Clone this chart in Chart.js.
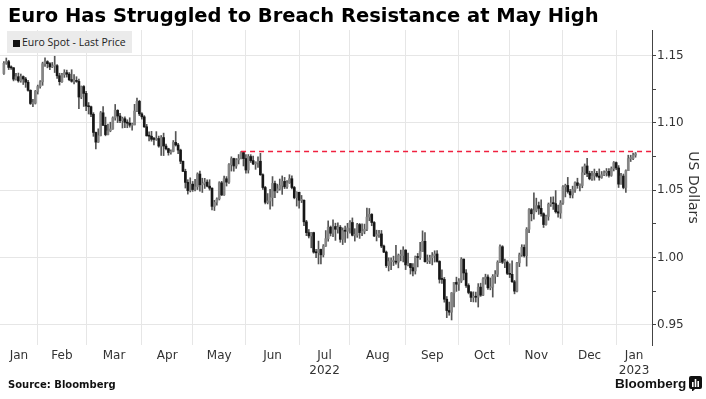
<!DOCTYPE html>
<html>
<head>
<meta charset="utf-8">
<script src="https://cdn.jsdelivr.net/npm/chart.js@4.4.1/dist/chart.umd.min.js"></script>
<style>
    html, body { margin: 0; padding: 0; background: #fff; }
    #wrap { position: relative; width: 706px; height: 399px; overflow: hidden; }
    #chart { position: absolute; left: 0; top: 0; }
    #title {
        position: absolute; left: 8px; top: 4px; line-height: 24px;
        font: bold 19.5px "DejaVu Sans", sans-serif; color: #000; white-space: nowrap;
    }
    #legend {
        position: absolute; left: 7px; top: 31px; width: 125px; height: 22px;
        background: #ebebeb; box-sizing: border-box; padding-left: 6px;
        font: 10.5px "Open Sans", sans-serif; color: #222; line-height: 22px; white-space: nowrap;
    }
    #legend .sw { display: inline-block; width: 7px; height: 7px; background: #111; margin-right: 2px; vertical-align: -0.5px; }
    #source {
        position: absolute; left: 8px; top: 379px;
        font: bold 10px "DejaVu Sans", sans-serif; color: #111; white-space: nowrap;
    }
    #brand {
        position: absolute; left: 615px; top: 376px;
        font: bold 13.5px "Liberation Sans", sans-serif; color: #111; white-space: nowrap;
    }
    #brand svg { vertical-align: -3px; margin-left: 3px; }
</style>
</head>
<body>
<div id="wrap">
    <canvas id="chart" width="706" height="399"></canvas>
    <div id="title">Euro Has Struggled to Breach Resistance at May High</div>
    <div id="legend"><span class="sw"></span>Euro Spot - Last Price</div>
    <div id="source">Source: Bloomberg</div>
    <div id="brand">Bloomberg<svg width="13" height="15" viewBox="0 0 13 15">
        <rect x="0" y="0" width="13" height="13" rx="2" fill="#111"/>
        <path d="M3 13 L3 16 L6 13 Z" fill="#111"/>
        <rect x="3" y="6" width="1.6" height="5" fill="#fff"/>
        <rect x="5.7" y="3" width="1.6" height="8" fill="#fff"/>
        <rect x="8.4" y="5" width="1.6" height="6" fill="#fff"/>
    </svg></div>
</div>

<script>
// EUR/USD daily candles, one per weekday from 12 Jan 2022
const startDate = '2022-01-12';
const firstOpen = 1.1367;

const closes = [
    1.1443, 1.1455, 1.1412, 1.1409, 1.1325, 1.1343, 1.1312, 1.1344, 1.1326, 1.1302, 1.1242, 1.1144, 1.1146, 1.1234,
    1.1270, 1.1305, 1.1440, 1.1455, 1.1440, 1.1416, 1.1423, 1.1425, 1.1350, 1.1306, 1.1357, 1.1373, 1.1362, 1.1321, 1.1309, 1.1309, 1.1308, 1.1192, 1.1270, 1.1219,
    1.1125, 1.1120, 1.1064, 1.0929, 1.0857, 1.0905, 1.1075, 1.0982, 1.0913, 1.0941, 1.0955, 1.1037, 1.1093, 1.1051, 1.1017, 1.1031, 1.1004, 1.0998, 1.0983, 1.0985, 1.1088, 1.1160, 1.1067,
    1.1045, 1.0971, 1.0904, 1.0901, 1.0878, 1.0877, 1.0884, 1.0828, 1.0891, 1.0828, 1.0808, 1.0780, 1.0788, 1.0855, 1.0836, 1.0798, 1.0715, 1.0640, 1.0558, 1.0497, 1.0545,
    1.0505, 1.0525, 1.0620, 1.0540, 1.0550, 1.0560, 1.0530, 1.0515, 1.0380, 1.0410, 1.0435, 1.0555, 1.0465, 1.0585, 1.0560, 1.0690, 1.0735, 1.0680, 1.0725, 1.0735, 1.0780, 1.0735,
    1.0650, 1.0750, 1.0720, 1.0695, 1.0705, 1.0715, 1.0615, 1.0520, 1.0410, 1.0420, 1.0445, 1.0550, 1.0495, 1.0510, 1.0535, 1.0565, 1.0525, 1.0555, 1.0585, 1.0520, 1.0445, 1.0485,
    1.0425, 1.0425, 1.0265, 1.0185, 1.0160, 1.0185, 1.0040, 1.0035, 1.0060, 1.0020, 1.0085, 1.0140, 1.0225, 1.0180, 1.0230, 1.0210, 1.0225, 1.0135, 1.0200, 1.0195, 1.0220,
    1.0260, 1.0165, 1.0165, 1.0245, 1.0185, 1.0195, 1.0210, 1.0300, 1.0320, 1.0260, 1.0160, 1.0170, 1.0175, 1.0085, 1.0040, 0.9940, 0.9970, 0.9970, 0.9970, 0.9965, 1.0015, 1.0015, 1.0055,
    0.9945, 0.9955, 0.9925, 0.9900, 1.0005, 1.0000, 1.0045, 1.0120, 0.9969, 0.9977, 0.9998, 1.0014, 1.0026, 0.9971, 0.9838, 0.9837, 0.9690, 0.9606, 0.9594, 0.9737, 0.9815, 0.9802,
    0.9825, 0.9988, 0.9885, 0.9792, 0.9740, 0.9704, 0.9707, 0.9705, 0.9780, 0.9720, 0.9840, 0.9855, 0.9775, 0.9780, 0.9860, 0.9875, 0.9965, 1.0080, 0.9965, 0.9965, 0.9882,
    0.9875, 0.9820, 0.9750, 0.9960, 1.0020, 1.0075, 1.0013, 1.0210, 1.0355, 1.0325, 1.0350, 1.0385, 1.0365, 1.0325, 1.0245, 1.0305, 1.0395, 1.0405, 1.0400, 1.0340, 1.0330, 1.0405,
    1.0525, 1.0535, 1.0490, 1.0465, 1.0505, 1.0555, 1.0535, 1.0535, 1.0630, 1.0680, 1.0625, 1.0585, 1.0605, 1.0625, 1.0605, 1.0595, 1.0615, 1.0630, 1.0640, 1.0610, 1.0660, 1.0705,
    1.0665, 1.0545, 1.0605, 1.0520, 1.0645, 1.0735, 1.0735, 1.0760, 1.0770
];

const highs = [
    1.1455, 1.1482, 1.1465, 1.1423, 1.1412, 1.1369, 1.1370, 1.1363, 1.1349, 1.1338, 1.1316, 1.1246, 1.1175, 1.1241,
    1.1281, 1.1314, 1.1451, 1.1483, 1.1462, 1.1448, 1.1449, 1.1495, 1.1434, 1.1369, 1.1369, 1.1395, 1.1392, 1.1374, 1.1395, 1.1358, 1.1343, 1.1325, 1.1274, 1.1277,
    1.1235, 1.1151, 1.1125, 1.1076, 1.0932, 1.0956, 1.1085, 1.1122, 1.1043, 1.0992, 1.1005, 1.1045, 1.1137, 1.1098, 1.1071, 1.1043, 1.1045, 1.1023, 1.1038, 1.0999, 1.1138, 1.1185, 1.1168,
    1.1076, 1.1054, 1.0989, 1.0934, 1.0937, 1.0893, 1.0935, 1.0902, 1.0906, 1.0924, 1.0842, 1.0812, 1.0800, 1.0869, 1.0936, 1.0849, 1.0805, 1.0717, 1.0656, 1.0578, 1.0592,
    1.0565, 1.0580, 1.0629, 1.0642, 1.0589, 1.0588, 1.0577, 1.0578, 1.0518, 1.0425, 1.0444, 1.0563, 1.0566, 1.0605, 1.0601, 1.0698, 1.0748, 1.0738, 1.0735, 1.0765, 1.0787, 1.0786,
    1.0764, 1.0765, 1.0764, 1.0753, 1.0711, 1.0748, 1.0774, 1.0622, 1.0528, 1.0475, 1.0506, 1.0601, 1.0567, 1.0545, 1.0583, 1.0606, 1.0595, 1.0571, 1.0615, 1.0606, 1.0528, 1.0488,
    1.0485, 1.0461, 1.0429, 1.0276, 1.0208, 1.0187, 1.0188, 1.0060, 1.0122, 1.0063, 1.0096, 1.0200, 1.0272, 1.0234, 1.0279, 1.0255, 1.0258, 1.0238, 1.0220, 1.0234, 1.0254,
    1.0275, 1.0294, 1.0214, 1.0254, 1.0253, 1.0250, 1.0248, 1.0368, 1.0364, 1.0326, 1.0267, 1.0203, 1.0202, 1.0201, 1.0093, 1.0048, 0.9998, 0.9997, 1.0010, 1.0090, 1.0026, 1.0055, 1.0080,
    1.0058, 1.0033, 0.9955, 0.9955, 1.0011, 1.0030, 1.0113, 1.0198, 1.0186, 1.0019, 1.0017, 1.0037, 1.0050, 1.0051, 0.9976, 0.9908, 0.9852, 0.9710, 0.9669, 0.9740, 0.9816, 0.9854,
    0.9843, 0.9999, 0.9989, 0.9911, 0.9805, 0.9749, 0.9745, 0.9743, 0.9806, 0.9809, 0.9851, 0.9876, 0.9872, 0.9848, 0.9873, 0.9903, 0.9976, 1.0094, 1.0088, 0.9989, 0.9975,
    0.9954, 0.9976, 0.9830, 0.9965, 1.0033, 1.0095, 1.0094, 1.0222, 1.0364, 1.0364, 1.0481, 1.0441, 1.0412, 1.0428, 1.0332, 1.0315, 1.0405, 1.0448, 1.0451, 1.0497, 1.0390, 1.0423,
    1.0535, 1.0545, 1.0595, 1.0506, 1.0530, 1.0562, 1.0589, 1.0548, 1.0673, 1.0695, 1.0736, 1.0641, 1.0640, 1.0657, 1.0640, 1.0658, 1.0639, 1.0643, 1.0661, 1.0660, 1.0673, 1.0713,
    1.0710, 1.0683, 1.0625, 1.0620, 1.0652, 1.0760, 1.0760, 1.0775, 1.0780
];

const lows = [
    1.1360, 1.1435, 1.1396, 1.1397, 1.1312, 1.1318, 1.1302, 1.1302, 1.1285, 1.1264, 1.1235, 1.1137, 1.1121, 1.1140,
    1.1214, 1.1258, 1.1279, 1.1420, 1.1409, 1.1396, 1.1410, 1.1374, 1.1331, 1.1281, 1.1301, 1.1338, 1.1340, 1.1313, 1.1302, 1.1289, 1.1301, 1.1106, 1.1180, 1.1122,
    1.1090, 1.1066, 1.1046, 1.0900, 1.0806, 1.0855, 1.0903, 1.0980, 1.0904, 1.0910, 1.0934, 1.0952, 1.1020, 1.1002, 1.1002, 1.0962, 1.0964, 1.0964, 1.0968, 1.0945, 1.0985, 1.1084, 1.1054,
    1.1028, 1.0966, 1.0902, 1.0866, 1.0864, 1.0837, 1.0870, 1.0819, 1.0758, 1.0757, 1.0800, 1.0760, 1.0768, 1.0785, 1.0828, 1.0772, 1.0697, 1.0637, 1.0516, 1.0471, 1.0487,
    1.0491, 1.0495, 1.0505, 1.0493, 1.0483, 1.0513, 1.0524, 1.0500, 1.0354, 1.0349, 1.0389, 1.0427, 1.0460, 1.0461, 1.0531, 1.0551, 1.0642, 1.0641, 1.0662, 1.0695, 1.0733, 1.0680,
    1.0627, 1.0627, 1.0706, 1.0690, 1.0655, 1.0670, 1.0610, 1.0506, 1.0398, 1.0398, 1.0359, 1.0382, 1.0445, 1.0481, 1.0500, 1.0469, 1.0512, 1.0513, 1.0550, 1.0509, 1.0436, 1.0382,
    1.0366, 1.0408, 1.0236, 1.0162, 1.0145, 1.0072, 1.0032, 0.9999, 0.9952, 0.9953, 1.0004, 1.0082, 1.0121, 1.0160, 1.0154, 1.0127, 1.0180, 1.0113, 1.0096, 1.0112, 1.0144,
    1.0180, 1.0160, 1.0122, 1.0150, 1.0142, 1.0162, 1.0176, 1.0200, 1.0273, 1.0236, 1.0154, 1.0123, 1.0150, 1.0073, 1.0035, 0.9926, 0.9900, 0.9910, 0.9940, 0.9950, 0.9923, 0.9975, 0.9967,
    0.9910, 0.9937, 0.9877, 0.9864, 0.9877, 0.9930, 0.9985, 1.0045, 0.9966, 0.9955, 0.9955, 0.9945, 0.9966, 0.9965, 0.9810, 0.9807, 0.9668, 0.9553, 0.9571, 0.9536, 0.9633, 0.9748,
    0.9756, 0.9814, 0.9834, 0.9777, 0.9730, 0.9671, 0.9670, 0.9669, 0.9632, 0.9711, 0.9716, 0.9801, 0.9763, 0.9760, 0.9706, 0.9808, 0.9858, 0.9961, 0.9955, 0.9925, 0.9873,
    0.9851, 0.9814, 0.9730, 0.9745, 0.9932, 1.0008, 1.0003, 0.9936, 1.0185, 1.0272, 1.0285, 1.0339, 1.0320, 1.0307, 1.0223, 1.0240, 1.0277, 1.0380, 1.0357, 1.0330, 1.0300, 1.0291,
    1.0395, 1.0450, 1.0478, 1.0443, 1.0442, 1.0484, 1.0514, 1.0494, 1.0518, 1.0615, 1.0601, 1.0577, 1.0573, 1.0574, 1.0597, 1.0574, 1.0588, 1.0608, 1.0605, 1.0597, 1.0603, 1.0643,
    1.0652, 1.0520, 1.0545, 1.0510, 1.0483, 1.0645, 1.0713, 1.0726, 1.0745
];

const monthLabels = [
    'Jan', 'Feb', 'Mar', 'Apr', 'May', 'Jun', ['Jul', '2022'],
    'Aug', 'Sep', 'Oct', 'Nov', 'Dec', ['Jan', '2023']
];
const yMajorTicks = [0.95, 1.00, 1.05, 1.10, 1.15];

// May high resistance level
const resistanceLevel = 1.0787;
const resistanceDate = '2022-05-30';

// axis window (in trading-day units)
const X_MIN = -1.6;
const X_MAX = 267.8;

// weekdays from the start date, one per candle
const tradingDays = [];
const cursor = new Date(startDate + 'T00:00:00Z');
while (tradingDays.length < closes.length) {
    const wd = cursor.getUTCDay();
    if (wd !== 0 && wd !== 6) tradingDays.push(new Date(cursor));
    cursor.setUTCDate(cursor.getUTCDate() + 1);
}

const monthStarts = [];
tradingDays.forEach((t, i) => {
    if (i > 0 && t.getUTCMonth() !== tradingDays[i - 1].getUTCMonth()) monthStarts.push(i);
});
const bounds = [X_MIN, ...monthStarts, X_MAX];
const labelPositions = monthLabels.map((_, k) => (bounds[k] + bounds[k + 1]) / 2);

const resistanceIdx = tradingDays.findIndex(t => t.toISOString().slice(0, 10) === resistanceDate);

const opens = closes.map((c, i) => i === 0 ? firstOpen : closes[i - 1]);
const wickData = closes.map((c, i) => ({ x: i, y: [lows[i], highs[i]] }));
const bodyData = closes.map((c, i) => ({ x: i, y: [Math.min(opens[i], c), Math.max(opens[i], c)] }));
const bodyColors = closes.map((c, i) => c >= opens[i] ? '#858585' : '#161616');

const yTicks = [];
yMajorTicks.forEach((v, i) => {
    yTicks.push({ value: v, major: true });
    if (i < yMajorTicks.length - 1) yTicks.push({ value: (v + yMajorTicks[i + 1]) / 2, major: false });
});

Chart.defaults.font.family = '"DejaVu Sans", sans-serif';
Chart.defaults.color = '#333';

new Chart(document.getElementById('chart'), {
    type: 'bar',
    data: {
        datasets: [
            {
                type: 'line',
                data: [{ x: resistanceIdx, y: resistanceLevel }, { x: X_MAX, y: resistanceLevel }],
                borderColor: '#f0203f',
                borderWidth: 1.4,
                borderDash: [5, 4],
                pointRadius: 0,
                order: 0
            },
            {
                data: bodyData,
                backgroundColor: bodyColors,
                barThickness: 2,
                minBarLength: 1,
                grouped: false,
                order: 1
            },
            {
                data: wickData,
                backgroundColor: '#555',
                barThickness: 1,
                grouped: false,
                order: 2
            }
        ]
    },
    options: {
        responsive: false,
        animation: false,
        layout: { padding: { top: 30, left: 0, right: 0, bottom: 0 } },
        plugins: {
            legend: { display: false },
            tooltip: { enabled: false }
        },
        scales: {
            x: {
                type: 'linear',
                position: 'bottom',
                min: X_MIN,
                max: X_MAX,
                offset: false,
                afterBuildTicks: s => { s.ticks = monthStarts.map(v => ({ value: v })); },
                afterFit: s => { s.height = 0; },
                ticks: { display: false },
                grid: { color: '#e6e6e6', drawTicks: false, offset: false },
                border: { display: false }
            },
            xl: {
                type: 'linear',
                position: 'bottom',
                min: X_MIN,
                max: X_MAX,
                offset: false,
                afterBuildTicks: s => { s.ticks = labelPositions.map(v => ({ value: v })); },
                afterFit: s => { s.height = 54; },
                ticks: {
                    callback: (v, i) => monthLabels[i],
                    font: { size: 12 },
                    color: '#333',
                    padding: 4,
                    maxRotation: 0,
                    autoSkip: false
                },
                grid: { display: false, drawTicks: false },
                border: { display: false }
            },
            y: {
                position: 'right',
                min: 0.935,
                max: 1.169,
                afterBuildTicks: s => { s.ticks = yTicks.map(t => ({ value: t.value })); },
                afterFit: s => { s.width = 54; },
                ticks: {
                    callback: (v, i) => yTicks[i].major ? v.toFixed(2) : '',
                    font: { size: 12 },
                    color: '#333',
                    padding: 1,
                    autoSkip: false
                },
                grid: {
                    color: ctx => (yTicks[ctx.index] && yTicks[ctx.index].major) ? '#e6e6e6' : 'rgba(0,0,0,0)',
                    tickColor: '#444',
                    tickLength: 4
                },
                border: { display: true, color: '#444', width: 1 },
                title: {
                    display: true,
                    text: 'US Dollars',
                    font: { size: 14 },
                    color: '#333',
                    padding: { top: 5, bottom: 0 }
                }
            }
        }
    }
});
</script>
</body>
</html>
